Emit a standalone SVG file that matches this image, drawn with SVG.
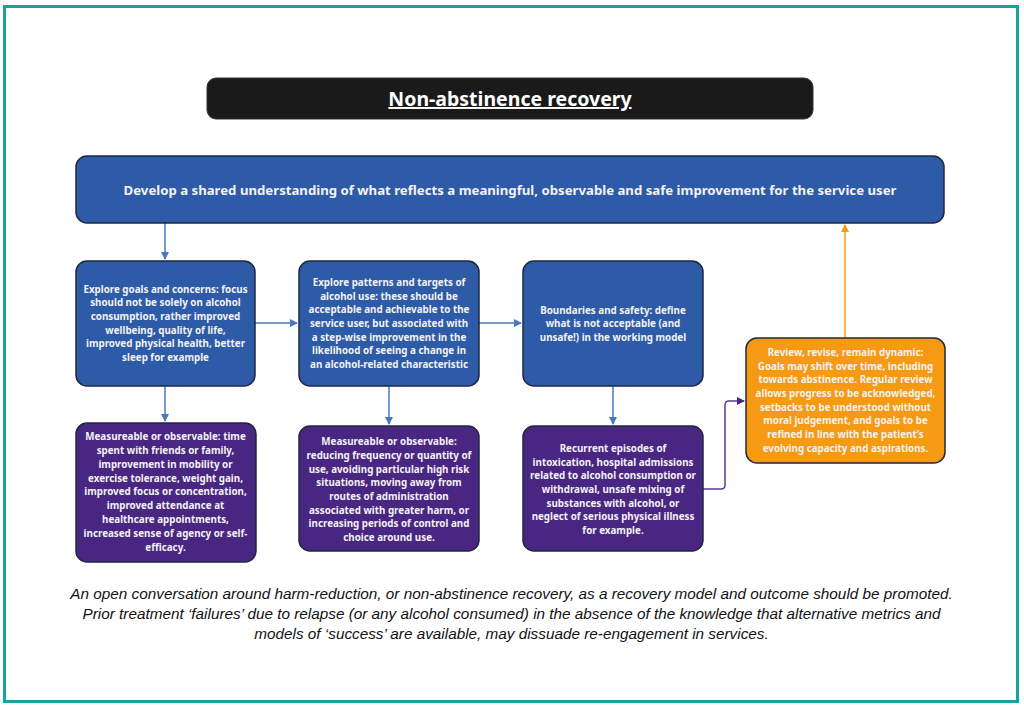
<svg xmlns="http://www.w3.org/2000/svg" width="1024" height="708" viewBox="0 0 1024 708">
<style>
.box{stroke:#1f2840;stroke-width:1.5}
.blue{fill:#2e5ba8}
.purple{fill:#4a2683}
.orange{fill:#f59a12}
.t{font-family:"Noto Sans","Open Sans",sans-serif;font-weight:bold;font-size:9.8px;fill:#f2f2f2;text-anchor:middle}
.conn{fill:none;stroke-width:1.5}
.foot{font-family:"Liberation Sans",Arial,sans-serif;font-style:italic;font-size:15.3px;fill:#111;text-anchor:middle}
</style>
<defs>
<marker id="ab" markerWidth="8" markerHeight="8" refX="7" refY="4" orient="auto" markerUnits="userSpaceOnUse"><path d="M0,0 L8,4 L0,8 Z" fill="#4a78bd"/></marker>
<marker id="ap" markerWidth="8" markerHeight="8" refX="7" refY="4" orient="auto" markerUnits="userSpaceOnUse"><path d="M0,0 L8,4 L0,8 Z" fill="#4a2683"/></marker>
<marker id="ao" markerWidth="8" markerHeight="8" refX="7" refY="4" orient="auto" markerUnits="userSpaceOnUse"><path d="M0,0 L8,4 L0,8 Z" fill="#f39c12"/></marker>
</defs>
<rect x="0" y="0" width="1024" height="708" fill="#ffffff"/>
<rect x="4.5" y="6.5" width="1013" height="695" fill="none" stroke="#17a2a0" stroke-width="3"/>

<g id="title">
<rect x="207" y="78" width="606" height="41" rx="9" fill="#1a1a1a" stroke="#333" stroke-width="1"/>
<text x="510" y="106" font-family="Noto Sans,Open Sans,sans-serif" font-weight="bold" font-size="19.5" fill="#ffffff" text-anchor="middle" text-decoration="underline">Non-abstinence recovery</text>
</g>

<g id="connectors">
<path class="conn" stroke="#4a78bd" d="M165,223 V259" marker-end="url(#ab)"/>
<path class="conn" stroke="#4a78bd" d="M255,323 H297" marker-end="url(#ab)"/>
<path class="conn" stroke="#4a78bd" d="M479,323 H521" marker-end="url(#ab)"/>
<path class="conn" stroke="#4a78bd" d="M165,386 V421" marker-end="url(#ab)"/>
<path class="conn" stroke="#4a78bd" d="M389,386 V424" marker-end="url(#ab)"/>
<path class="conn" stroke="#4a78bd" d="M613,386 V424" marker-end="url(#ab)"/>
<path class="conn" stroke="#5a3d92" d="M703,489 H721 Q725,489 725,485 V405 Q725,401 729,401 H744" marker-end="url(#ap)"/>
<path class="conn" stroke="#f39c12" d="M845,338 V225" marker-end="url(#ao)"/>
</g>

<g id="top">
<rect class="box blue" x="76" y="156" width="868" height="67" rx="11"/>
<text class="t" x="510" y="194.5" style="font-size:13.2px">Develop a shared understanding of what reflects a meaningful, observable and safe improvement for the service user</text>
</g>

<g id="goals">
<rect class="box blue" x="76" y="261" width="179" height="125" rx="11"/>
<text class="t"><tspan x="165.5" y="292.5">Explore goals and concerns: focus</tspan><tspan x="165.5" y="306.2">should not be solely on alcohol</tspan><tspan x="165.5" y="319.9">consumption, rather improved</tspan><tspan x="165.5" y="333.6">wellbeing, quality of life,</tspan><tspan x="165.5" y="347.3">improved physical health, better</tspan><tspan x="165.5" y="361">sleep for example</tspan></text>
</g>

<g id="patterns">
<rect class="box blue" x="299" y="261" width="180" height="125" rx="11"/>
<text class="t"><tspan x="389" y="285.8">Explore patterns and targets of</tspan><tspan x="389" y="299.5">alcohol use: these should be</tspan><tspan x="389" y="313.2">acceptable and achievable to the</tspan><tspan x="389" y="326.9">service user, but associated with</tspan><tspan x="389" y="340.6">a step-wise improvement in the</tspan><tspan x="389" y="354.3">likelihood of seeing a change in</tspan><tspan x="389" y="368">an alcohol-related characteristic</tspan></text>
</g>

<g id="boundaries">
<rect class="box blue" x="523" y="261" width="180" height="125" rx="11"/>
<text class="t"><tspan x="613" y="313.5">Boundaries and safety: define</tspan><tspan x="613" y="327.2">what is not acceptable (and</tspan><tspan x="613" y="340.9">unsafe!) in the working model</tspan></text>
</g>

<g id="review">
<rect class="box orange" x="746" y="338" width="199" height="125" rx="11"/>
<text class="t"><tspan x="845.5" y="355.8">Review, revise, remain dynamic:</tspan><tspan x="845.5" y="369.5">Goals may shift over time, including</tspan><tspan x="845.5" y="383.2">towards abstinence. Regular review</tspan><tspan x="845.5" y="396.9">allows progress to be acknowledged,</tspan><tspan x="845.5" y="410.6">setbacks to be understood without</tspan><tspan x="845.5" y="424.3">moral judgement, and goals to be</tspan><tspan x="845.5" y="438">refined in line with the patient’s</tspan><tspan x="845.5" y="451.7">evolving capacity and aspirations.</tspan></text>
</g>

<g id="measure1">
<rect class="box purple" x="76" y="423" width="180" height="139" rx="11"/>
<text class="t"><tspan x="165.5" y="440.2">Measureable or observable: time</tspan><tspan x="165.5" y="454">spent with friends or family,</tspan><tspan x="165.5" y="467.8">improvement in mobility or</tspan><tspan x="165.5" y="481.6">exercise tolerance, weight gain,</tspan><tspan x="165.5" y="495.4">improved focus or concentration,</tspan><tspan x="165.5" y="509.2">improved attendance at</tspan><tspan x="165.5" y="523">healthcare appointments,</tspan><tspan x="165.5" y="536.8">increased sense of agency or self-</tspan><tspan x="165.5" y="550.6">efficacy.</tspan></text>
</g>

<g id="measure2">
<rect class="box purple" x="299" y="426" width="180" height="125" rx="11"/>
<text class="t"><tspan x="389" y="445.2">Measureable or observable:</tspan><tspan x="389" y="458.9">reducing frequency or quantity of</tspan><tspan x="389" y="472.6">use, avoiding particular high risk</tspan><tspan x="389" y="486.3">situations, moving away from</tspan><tspan x="389" y="500">routes of administration</tspan><tspan x="389" y="513.7">associated with greater harm, or</tspan><tspan x="389" y="527.4">increasing periods of control and</tspan><tspan x="389" y="541.1">choice around use.</tspan></text>
</g>

<g id="unsafe">
<rect class="box purple" x="523" y="426" width="180" height="125" rx="11"/>
<text class="t"><tspan x="613" y="451.8">Recurrent episodes of</tspan><tspan x="613" y="465.5">intoxication, hospital admissions</tspan><tspan x="613" y="479.2">related to alcohol consumption or</tspan><tspan x="613" y="492.9">withdrawal, unsafe mixing of</tspan><tspan x="613" y="506.6">substances with alcohol, or</tspan><tspan x="613" y="520.3">neglect of serious physical illness</tspan><tspan x="613" y="534">for example.</tspan></text>
</g>

<g id="footer">
<text class="foot"><tspan x="511.5" y="598.5">An open conversation around harm-reduction, or non-abstinence recovery, as a recovery model and outcome should be promoted.</tspan><tspan x="511.5" y="618.5">Prior treatment ‘failures’ due to relapse (or any alcohol consumed) in the absence of the knowledge that alternative metrics and</tspan><tspan x="511.5" y="639">models of ‘success’ are available, may dissuade re-engagement in services.</tspan></text>
</g>
</svg>
